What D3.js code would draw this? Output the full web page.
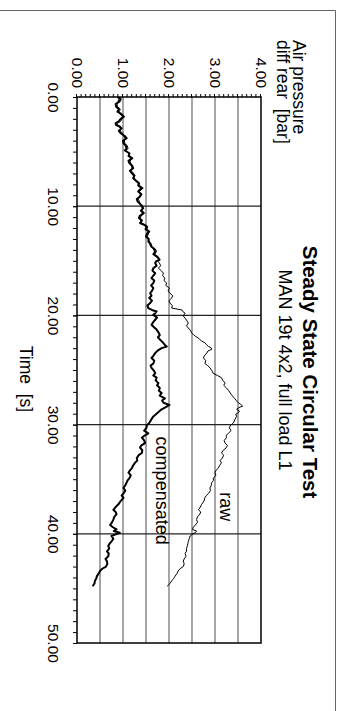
<!DOCTYPE html>
<html>
<head>
<meta charset="utf-8">
<script src="https://cdn.jsdelivr.net/npm/d3@7"></script>
<style>
  html, body { margin: 0; padding: 0; background: #fff; }
  svg { display: block; font-family: "Liberation Sans", Arial, Helvetica, sans-serif; }
</style>
</head>
<body>
<svg id="chart" width="341" height="711"></svg>
<script>
// ---- data ----
const timeTicks = [0, 10, 20, 30, 40, 50];
const pressureTicks = [0, 1, 2, 3, 4];

// compensated signal
const compTime = [0, 0.2, 0.43, 0.65, 0.89, 1.1, 1.34, 1.55, 1.8, 2.0, 2.26, 2.4, 2.56, 2.7, 2.87, 3.1, 3.32, 3.55, 3.78, 4.0,
  4.24, 4.45, 4.7, 4.9, 5.15, 5.4, 5.61, 5.85, 6.07, 6.3, 6.52, 6.75, 6.98, 7.2, 7.44, 7.65, 7.9, 8.1, 8.35, 8.5,
  8.66, 8.9, 9.12, 9.35, 9.58, 9.9, 10.18, 10.4, 10.64, 10.9, 11.1, 11.3, 11.56, 11.7, 11.86, 12.1, 12.32, 12.55, 12.78, 13.0,
  13.24, 13.45, 13.7, 13.9, 14.15, 14.4, 14.61, 14.75, 14.9, 15.05, 15.2, 15.45, 15.67, 15.9, 16.13, 16.35, 16.59, 16.8, 17.04, 17.25,
  17.5, 17.75, 17.96, 18.2, 18.4, 18.65, 18.87, 19.1, 19.33, 19.5, 19.64, 19.8, 19.95, 20.2, 20.4, 20.6, 20.86, 21.1, 21.3, 21.55,
  21.8, 22.0, 22.2, 22.45, 22.7, 22.85, 23.0, 23.2, 23.45, 23.7, 23.9, 24.15, 24.4, 24.6, 24.8, 25.05, 25.3, 25.5, 25.7, 25.95,
  26.2, 26.4, 26.65, 26.9, 27.1, 27.35, 27.6, 27.8, 28.0, 28.2, 28.4, 28.6, 28.9, 29.25, 29.5, 29.85, 30.05, 30.3, 30.55, 30.8,
  31.0, 31.2, 31.45, 31.7, 31.9, 32.1, 32.35, 32.6, 32.8, 33.06, 33.3, 33.5, 33.75, 34, 34.2, 34.4, 34.65, 34.9, 35.1, 35.3,
  35.55, 35.8, 36.05, 36.3, 36.5, 36.7, 37.0, 37.3, 37.55, 37.8, 38.0, 38.2, 38.45, 38.7, 38.95, 39.2, 39.4, 39.6, 39.75, 39.9,
  40.05, 40.2, 40.45, 40.7, 40.9, 41.1, 41.35, 41.6, 41.8, 42.06, 42.3, 42.5, 42.75, 43, 43.2, 43.4, 43.65, 43.9, 44.1, 44.3,
  44.55, 44.8];
const compValue = [0.88, 0.95, 0.92, 0.84, 0.85, 0.91, 0.88, 0.96, 1.02, 0.95, 0.90, 0.84, 0.85, 0.93, 0.97, 0.91, 0.95, 1.03, 1.08, 1.00,
  1.01, 1.06, 1.08, 1.04, 1.14, 1.12, 1.19, 1.12, 1.14, 1.20, 1.22, 1.15, 1.19, 1.25, 1.22, 1.28, 1.35, 1.33, 1.41, 1.36,
  1.33, 1.40, 1.37, 1.30, 1.32, 1.40, 1.44, 1.39, 1.44, 1.36, 1.35, 1.41, 1.38, 1.46, 1.51, 1.49, 1.57, 1.52, 1.50, 1.56,
  1.55, 1.60, 1.62, 1.67, 1.70, 1.66, 1.73, 1.77, 1.79, 1.72, 1.70, 1.73, 1.66, 1.64, 1.70, 1.66, 1.62, 1.68, 1.66, 1.61,
  1.66, 1.63, 1.59, 1.62, 1.57, 1.63, 1.59, 1.53, 1.55, 1.63, 1.73, 1.70, 1.66, 1.74, 1.70, 1.66, 1.62, 1.68, 1.73, 1.77,
  1.80, 1.76, 1.80, 1.86, 1.91, 1.95, 1.84, 1.76, 1.70, 1.66, 1.62, 1.68, 1.66, 1.60, 1.62, 1.67, 1.70, 1.66, 1.73, 1.71,
  1.77, 1.74, 1.80, 1.78, 1.84, 1.80, 1.91, 1.85, 1.88, 2.01, 1.93, 1.84, 1.76, 1.66, 1.62, 1.57, 1.52, 1.51, 1.46, 1.55,
  1.47, 1.41, 1.46, 1.48, 1.40, 1.37, 1.42, 1.41, 1.34, 1.30, 1.31, 1.26, 1.22, 1.19, 1.15, 1.12, 1.17, 1.14, 1.10, 1.08,
  1.05, 1.01, 1.05, 1.01, 0.97, 1.01, 0.95, 0.90, 0.84, 0.79, 0.84, 0.86, 0.81, 0.79, 0.76, 0.72, 0.78, 0.86, 0.80, 0.93,
  0.84, 0.75, 0.79, 0.75, 0.71, 0.68, 0.70, 0.65, 0.69, 0.68, 0.62, 0.65, 0.66, 0.63, 0.55, 0.50, 0.47, 0.43, 0.42, 0.39,
  0.38, 0.34];

// raw signal
const rawTime = [0, 0.2, 0.43, 0.65, 0.89, 1.1, 1.34, 1.55, 1.8, 2.0, 2.26, 2.4, 2.56, 2.7, 2.87, 3.1, 3.32, 3.55, 3.78, 4.0,
  4.24, 4.45, 4.7, 4.9, 5.15, 5.4, 5.61, 5.85, 6.07, 6.3, 6.52, 6.75, 6.98, 7.2, 7.44, 7.65, 7.9, 8.1, 8.35, 8.5,
  8.66, 8.9, 9.12, 9.35, 9.58, 9.9, 10.18, 10.4, 10.64, 10.9, 11.1, 11.3, 11.56, 11.7, 11.86, 12.1, 12.32, 12.55, 12.78, 13.0,
  13.24, 13.45, 13.7, 13.9, 14.15, 14.4, 14.61, 14.75, 14.9, 15.05, 15.2, 15.45, 15.67, 15.9, 16.13, 16.35, 16.59, 16.8, 17.04, 17.25,
  17.5, 17.75, 17.96, 18.2, 18.4, 18.65, 18.87, 19.1, 19.33, 19.5, 19.65, 19.8, 20.05, 20.25, 20.5, 20.7, 20.95, 21.16, 21.4, 21.6,
  21.75, 21.9, 22.05, 22.2, 22.35, 22.5, 22.7, 22.85, 22.95, 23.1, 23.25, 23.45, 23.7, 23.9, 24.15, 24.4, 24.6, 24.8, 25.05, 25.3,
  25.5, 25.7, 25.95, 26.2, 26.4, 26.65, 26.9, 27.1, 27.35, 27.6, 27.8, 28.0, 28.15, 28.3, 28.45, 28.6, 28.75, 28.9, 29.05, 29.25,
  29.55, 29.85, 30.05, 30.3, 30.55, 30.8, 31.0, 31.2, 31.45, 31.7, 31.9, 32.1, 32.35, 32.6, 32.8, 33.06, 33.3, 33.5, 33.75, 34,
  34.2, 34.4, 34.65, 34.9, 35.1, 35.3, 35.55, 35.8, 36.05, 36.3, 36.5, 36.7, 37.0, 37.3, 37.55, 37.8, 38.0, 38.2, 38.45, 38.7,
  38.95, 39.2, 39.4, 39.6, 39.75, 39.9, 40.05, 40.2, 40.45, 40.7, 40.9, 41.1, 41.35, 41.6, 41.8, 42.06, 42.3, 42.5, 42.75, 43,
  43.2, 43.4, 43.65, 43.9, 44.1, 44.3, 44.55, 44.8];
const rawValue = [0.92, 0.91, 0.89, 0.87, 0.88, 0.94, 0.92, 0.93, 0.99, 0.98, 0.94, 0.87, 0.88, 0.90, 0.95, 0.94, 0.99, 1.01, 1.05, 1.03,
  1.04, 1.09, 1.11, 1.07, 1.12, 1.15, 1.22, 1.15, 1.17, 1.18, 1.20, 1.18, 1.23, 1.23, 1.25, 1.26, 1.33, 1.36, 1.44, 1.39,
  1.36, 1.38, 1.35, 1.33, 1.36, 1.38, 1.42, 1.42, 1.47, 1.39, 1.38, 1.39, 1.36, 1.49, 1.54, 1.52, 1.55, 1.55, 1.53, 1.54,
  1.58, 1.58, 1.60, 1.70, 1.73, 1.69, 1.76, 1.75, 1.81, 1.76, 1.79, 1.82, 1.77, 1.83, 1.88, 1.86, 1.91, 1.89, 1.95, 1.93,
  2.01, 1.98, 2.02, 2.08, 2.06, 2.00, 2.02, 2.07, 2.06, 2.28, 2.30, 2.35, 2.31, 2.35, 2.39, 2.42, 2.38, 2.42, 2.47, 2.49,
  2.53, 2.57, 2.63, 2.67, 2.71, 2.78, 2.82, 2.86, 2.91, 2.93, 2.85, 2.82, 2.77, 2.75, 2.80, 2.78, 2.84, 2.89, 2.93, 2.96,
  3.05, 3.14, 3.17, 3.22, 3.19, 3.25, 3.30, 3.33, 3.37, 3.43, 3.46, 3.51, 3.56, 3.60, 3.52, 3.47, 3.53, 3.51, 3.45, 3.47,
  3.43, 3.40, 3.34, 3.31, 3.35, 3.29, 3.24, 3.25, 3.20, 3.22, 3.27, 3.25, 3.18, 3.14, 3.19, 3.16, 3.11, 3.14, 3.10, 3.07,
  3.02, 3.00, 3.02, 2.96, 2.97, 2.93, 2.92, 2.89, 2.90, 2.86, 2.81, 2.78, 2.76, 2.71, 2.68, 2.64, 2.69, 2.67, 2.62, 2.60,
  2.62, 2.57, 2.53, 2.51, 2.60, 2.57, 2.50, 2.46, 2.44, 2.42, 2.41, 2.40, 2.38, 2.38, 2.35, 2.37, 2.33, 2.31, 2.33, 2.31,
  2.24, 2.20, 2.17, 2.13, 2.10, 2.06, 2.02, 1.96];

// label anchors in data units (time, pressure)
const rawLabel = { text: "raw", t: 36.2, v: 3.11 };
const compLabel = { text: "compensated", t: 31.1, v: 1.71 };

// ---- drawing ----
const svg = d3.select("#chart");

// outer frame
svg.append("path")
  .attr("d", "M0,10.5 H335.5 V711")
  .attr("fill", "none")
  .attr("stroke", "#666")
  .attr("stroke-width", 1);

// chart is laid out landscape and turned a quarter clockwise onto the page
const g = svg.append("g").attr("transform", "translate(341,0) rotate(90)");

const plotL = 97, plotR = 643, plotT = 80, plotB = 264;
const x = d3.scaleLinear().domain([0, 50]).range([plotL, plotR]);
const y = d3.scaleLinear().domain([0, 4]).range([plotB, plotT]);

// pressure gridlines every 0.5 bar
const yGrid = d3.range(0.5, 4, 0.5);
g.append("g").selectAll("line").data(yGrid).join("line")
  .attr("x1", plotL).attr("x2", plotR)
  .attr("y1", d => y(d)).attr("y2", d => y(d))
  .attr("stroke", "#6a6a6a").attr("stroke-width", 1.2);

// time gridlines every 10 s
g.append("g").selectAll("line").data(timeTicks.slice(1, -1)).join("line")
  .attr("x1", d => x(d)).attr("x2", d => x(d))
  .attr("y1", plotT).attr("y2", plotB)
  .attr("stroke", "#222").attr("stroke-width", 1.2);

// minor ticks on the pressure axis (0.1 bar)
const yMinor = d3.axisLeft(y).tickValues(d3.range(0, 4.001, 0.1)).tickSize(3).tickFormat("");
const gyMinor = g.append("g").attr("transform", `translate(${plotL},0)`).call(yMinor);
gyMinor.select(".domain").remove();
gyMinor.selectAll("line").attr("stroke", "#000");

// labelled pressure ticks
const yAxis = d3.axisLeft(y).tickValues(pressureTicks).tickSize(3).tickPadding(6).tickFormat(d3.format(".2f"));
const gy = g.append("g").attr("transform", `translate(${plotL},0)`).call(yAxis);
gy.select(".domain").remove();
gy.selectAll("text").attr("font-size", 15.5).attr("fill", "#000")
  .attr("font-family", "Liberation Sans, Arial, sans-serif");

// time ticks every 1 s
const xMinor = d3.axisBottom(x).tickValues(d3.range(0, 50.001, 1)).tickSize(4).tickFormat("");
const gxMinor = g.append("g").attr("transform", `translate(0,${plotB})`).call(xMinor);
gxMinor.select(".domain").remove();
gxMinor.selectAll("line").attr("stroke", "#000");

const xAxis = d3.axisBottom(x).tickValues(timeTicks).tickSize(4).tickPadding(14).tickFormat(d3.format(".2f"));
const gx = g.append("g").attr("transform", `translate(0,${plotB})`).call(xAxis);
gx.select(".domain").remove();
gx.selectAll("text").attr("font-size", 15.5).attr("fill", "#000")
  .attr("font-family", "Liberation Sans, Arial, sans-serif");

// plot border
g.append("rect")
  .attr("x", plotL).attr("y", plotT)
  .attr("width", plotR - plotL).attr("height", plotB - plotT)
  .attr("fill", "none").attr("stroke", "#000").attr("stroke-width", 1.5);

// series
const line = d3.line().x(d => x(d[0])).y(d => y(d[1]));
const rawPts = d3.zip(rawTime, rawValue);
const compPts = d3.zip(compTime, compValue);

g.append("path").datum(rawPts)
  .attr("d", line).attr("fill", "none")
  .attr("stroke", "#000").attr("stroke-width", 1).attr("stroke-linejoin", "round");
g.append("path").datum(compPts)
  .attr("d", line).attr("fill", "none")
  .attr("stroke", "#000").attr("stroke-width", 2).attr("stroke-linejoin", "round");

// series labels
[rawLabel, compLabel].forEach(l => {
  g.append("text")
    .attr("x", x(l.t)).attr("y", y(l.v))
    .attr("font-size", 18).attr("fill", "#000")
    .text(l.text);
});

// titles
g.append("text")
  .attr("x", (plotL + plotR) / 2 + 2).attr("y", 38)
  .attr("text-anchor", "middle").attr("font-size", 20.5).attr("font-weight", "bold")
  .text("Steady State Circular Test");
g.append("text")
  .attr("x", (plotL + plotR) / 2).attr("y", 62)
  .attr("text-anchor", "middle").attr("font-size", 18)
  .text("MAN 19t 4x2, full load L1");

// axis titles
g.append("text")
  .attr("x", 40).attr("y", 48)
  .attr("font-size", 17.5).text("Air pressure");
g.append("text")
  .attr("x", 40).attr("y", 64)
  .attr("font-size", 17.5)
  .style("white-space", "pre")
  .text("diff rear  [bar]");
g.append("text")
  .attr("x", 379).attr("y", 321)
  .attr("text-anchor", "middle").attr("font-size", 17.5)
  .style("white-space", "pre")
  .text("Time  [s]");
</script>
</body>
</html>
